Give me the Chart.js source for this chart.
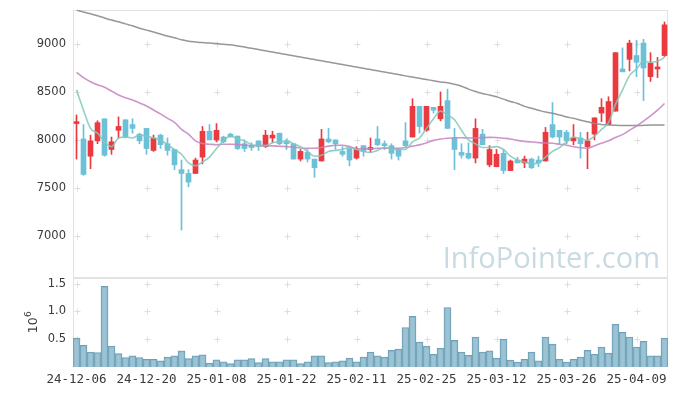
<!DOCTYPE html>
<html>
<head>
<meta charset="utf-8">
<script src="https://cdn.jsdelivr.net/npm/chart.js@4.4.1/dist/chart.umd.min.js"></script>
<style>
  html, body { margin: 0; padding: 0; background: #fff; }
  #wrap { position: relative; width: 677px; height: 396px; }
  #priceBox { position: absolute; left: 0; top: 0; width: 677px; height: 278px; }
  #volBox { position: absolute; left: 0; top: 277px; width: 677px; height: 119px; }
</style>
</head>
<body>
<div id="wrap">
  <div id="priceBox"><canvas id="price" width="677" height="278"></canvas></div>
  <div id="volBox"><canvas id="vol" width="677" height="119"></canvas></div>
</div>
<script>
// trading days shown
const dates = ["24-12-06","24-12-09","24-12-10","24-12-11","24-12-12","24-12-13","24-12-16","24-12-17","24-12-18","24-12-19",
  "24-12-20","24-12-23","24-12-24","24-12-26","24-12-27","24-12-30","25-01-02","25-01-03","25-01-06","25-01-07",
  "25-01-08","25-01-09","25-01-10","25-01-13","25-01-14","25-01-15","25-01-16","25-01-17","25-01-20","25-01-21",
  "25-01-22","25-01-23","25-01-24","25-01-31","25-02-03","25-02-04","25-02-05","25-02-06","25-02-07","25-02-10",
  "25-02-11","25-02-12","25-02-13","25-02-14","25-02-17","25-02-18","25-02-19","25-02-20","25-02-21","25-02-24",
  "25-02-25","25-02-26","25-02-27","25-02-28","25-03-04","25-03-05","25-03-06","25-03-07","25-03-10","25-03-11",
  "25-03-12","25-03-13","25-03-14","25-03-17","25-03-18","25-03-19","25-03-20","25-03-21","25-03-24","25-03-25",
  "25-03-26","25-03-27","25-03-28","25-03-31","25-04-01","25-04-02","25-04-03","25-04-04","25-04-07","25-04-08",
  "25-04-09","25-04-10","25-04-11","25-04-14","25-04-15"];

const opens = [8170,8010,7830,7990,8220,7900,8100,8210,8160,8060, 8120,7890,8050,7960,7900,7690,7650,7650,7820,8090,
  8000,8030,8060,8040,7960,7930,7990,7930,8020,8070, 7970,7960,7800,7870,7800,7780,8010,8000,7880,7910,
  7810,7940,7900,8010,7960,7940,7900,7990,8030,8350, 8100,8340,8220,8410,8020,7870,7860,7810,8060,7740,
  7720,7860,7680,7790,7760,7800,7790,7780,8160,8100, 8080,7990,8020,7930,8060,8280,8160,8300,8740,8840,
  8880,9010,8660,8740,8880];
const highs = [8260,8160,8050,8200,8220,8030,8240,8210,8220,8070, 8120,8050,8060,8020,7900,7790,7690,7810,8140,8160,
  8170,8040,8070,8040,8000,7970,7990,8100,8090,8070, 8010,7960,7900,7900,7800,8110,8120,8000,7930,7910,
  7930,7940,8020,8140,7990,7960,7910,8180,8430,8350, 8350,8340,8500,8530,8120,7960,7970,8220,8110,7940,
  7900,7900,7790,7820,7830,7810,7830,8130,8390,8100, 8100,8160,8080,8080,8230,8430,8450,8910,8960,9040,
  9040,9050,8910,8860,9230];
const lows = [7800,7630,7700,7960,7830,7850,8020,8020,8070,7960, 7850,7880,7910,7840,7690,7060,7510,7650,7750,8000,
  7980,7970,8030,7900,7880,7890,7890,7920,7970,7950, 7900,7800,7780,7770,7610,7780,7970,7900,7830,7730,
  7800,7830,7870,7940,7900,7800,7790,7930,8030,8070, 8090,8280,8200,8120,7690,7810,7800,7760,7950,7720,
  7720,7650,7680,7760,7710,7700,7720,7780,8020,7960, 7960,7950,7810,7700,8000,8190,8160,8300,8710,8720,
  8660,8410,8610,8650,8870];
const closes = [8190,7640,7990,8180,7840,7980,8140,8030,8120,7990, 7910,8020,7950,7890,7740,7650,7560,7790,8090,8000,
  8100,7980,8030,7910,7910,7920,7930,8050,8050,7960, 7960,7800,7880,7800,7710,8010,7980,7960,7850,7790,
  7900,7880,7920,7950,7940,7860,7830,7940,8350,8140, 8350,8310,8350,8120,7900,7840,7810,8120,7950,7900,
  7850,7680,7780,7760,7800,7710,7760,8080,8030,8030, 7990,8020,7960,7990,8230,8340,8400,8910,8710,9010,
  8810,8750,8800,8760,9200];

// moving averages
const ma5 = [8520,8310,8120,8070,7980,7930,8020,8030,8020,8050, 8040,8020,8000,7950,7900,7850,7760,7730,7770,7820,
  7910,7990,8040,8010,7990,7950,7940,7940,7970,7980, 7990,7960,7930,7880,7830,7840,7880,7890,7900,7920,
  7900,7880,7870,7890,7920,7910,7900,7900,7980,8020, 8120,8220,8300,8260,8210,8100,8000,7960,7920,7920,
  7930,7900,7830,7790,7770,7750,7760,7820,7880,7920, 7980,8030,8010,8000,8040,8110,8180,8370,8520,8670,
  8740,8820,8810,8820,8860];
const ma20 = [8705,8650,8607,8575,8549,8510,8469,8440,8417,8385, 8354,8312,8271,8225,8184,8110,8060,7990,7962,7955,
  7950,7955,7955,7952,7946,7941,7940,7940,7938,7934, 7930,7925,7915,7913,7913,7920,7935,7945,7945,7930,
  7910,7906,7908,7912,7913,7913,7913,7920,7935,7948, 7970,7995,8010,8018,8022,8022,8020,8020,8024,8026,
  8025,8018,8010,7995,7985,7978,7972,7968,7965,7955, 7945,7930,7918,7913,7940,7965,7990,8025,8055,8100,
  8145,8195,8250,8310,8380];
const ma60 = [9354,9335,9315,9295,9272,9250,9232,9210,9190,9165, 9145,9125,9105,9083,9065,9045,9030,9022,9015,9010,
  9005,8998,8992,8980,8968,8955,8942,8929,8916,8903, 8890,8877,8864,8851,8838,8825,8812,8799,8786,8773,
  8760,8747,8734,8721,8708,8695,8682,8668,8655,8642, 8630,8617,8605,8595,8580,8560,8530,8505,8485,8468,
  8450,8425,8400,8380,8350,8330,8310,8290,8278,8260, 8240,8225,8205,8190,8170,8160,8156,8152,8150,8150,
  8150,8152,8155,8156,8156];

// volume in millions of shares
const volumes = [0.52,0.39,0.27,0.26,1.45,0.375,0.24,0.17,0.20,0.17, 0.14,0.14,0.11,0.18,0.20,0.29,0.15,0.20,0.22,0.07,
  0.13,0.095,0.06,0.13,0.13,0.15,0.08,0.15,0.095,0.095, 0.13,0.13,0.06,0.095,0.20,0.20,0.08,0.095,0.11,0.16,
  0.095,0.18,0.27,0.20,0.18,0.30,0.32,0.71,0.91,0.45, 0.375,0.23,0.34,1.07,0.48,0.27,0.21,0.54,0.27,0.29,
  0.16,0.50,0.125,0.09,0.14,0.27,0.11,0.54,0.41,0.14, 0.09,0.14,0.18,0.30,0.23,0.36,0.25,0.77,0.625,0.54,
  0.36,0.46,0.20,0.20,0.52];

const priceTicks = [7000, 7500, 8000, 8500, 9000];
const volTicks = [0.5, 1.0, 1.5];
const labelEvery = 10;

const UP = "#ea3a40";
const DOWN = "#6cc1d9";
const Y_FONT = { family: "DejaVu Sans", size: 11.5 };
const X_FONT = { family: "DejaVu Sans Mono", size: 12.5 };
const TEXT = "#3a3a3a";
const candleColor = opens.map((o, i) => closes[i] >= o ? UP : DOWN);

// keep the plot box fixed: no extra room for overhanging tick labels
function fixBox(width) {
  return s => {
    if (width) s.width = width;
    s.paddingTop = 0; s.paddingBottom = 0;
    s.paddingLeft = 0; s.paddingRight = 0;
  };
}

// light frame + "+" marks at grid crossings
function frameAndCrosses(chart, yVals, sides) {
  const { ctx, chartArea: a, scales: { x, y } } = chart;
  ctx.save();
  ctx.strokeStyle = "#e2e2e2";
  ctx.lineWidth = 1;
  ctx.beginPath();
  if (sides.top) { ctx.moveTo(a.left, a.top + 0.5); ctx.lineTo(a.right, a.top + 0.5); }
  if (sides.bottom) { ctx.moveTo(a.left, a.bottom + 0.5); ctx.lineTo(a.right, a.bottom + 0.5); }
  ctx.moveTo(a.left + 0.5, a.top); ctx.lineTo(a.left + 0.5, a.bottom);
  ctx.moveTo(a.right - 0.5, a.top); ctx.lineTo(a.right - 0.5, a.bottom);
  ctx.stroke();

  ctx.strokeStyle = "#dedede";
  ctx.beginPath();
  for (let i = 0; i < dates.length; i += labelEvery) {
    const px = Math.round(x.getPixelForValue(i)) + 0.5;
    yVals.forEach(v => {
      const py = Math.round(y.getPixelForValue(v)) + 0.5;
      ctx.moveTo(px - 3, py); ctx.lineTo(px + 3, py);
      ctx.moveTo(px, py - 3); ctx.lineTo(px, py + 3);
    });
  }
  ctx.stroke();
  ctx.restore();
}

const priceDecor = {
  id: "priceDecor",
  beforeDatasetsDraw(chart) {
    frameAndCrosses(chart, priceTicks, { top: true, bottom: true });
    const { ctx, chartArea: a } = chart;
    ctx.save();
    ctx.fillStyle = "rgba(176,202,214,0.7)";
    ctx.font = "29px 'Open Sans'";
    ctx.textAlign = "right";
    ctx.textBaseline = "alphabetic";
    ctx.fillText("InfoPointer.com", a.right - 8, 268);
    ctx.restore();
  }
};

const volDecor = {
  id: "volDecor",
  beforeDatasetsDraw(chart) {
    frameAndCrosses(chart, volTicks, { top: true, bottom: false });
    // 10^6 unit label, rotated
    const { ctx, chartArea: a } = chart;
    ctx.save();
    ctx.translate(37, (a.top + a.bottom) / 2);
    ctx.rotate(-Math.PI / 2);
    ctx.fillStyle = TEXT;
    ctx.textBaseline = "alphabetic";
    ctx.textAlign = "left";
    ctx.font = "12.5px 'DejaVu Sans'";
    const w = ctx.measureText("10").width;
    ctx.font = "9px 'DejaVu Sans'";
    const w2 = ctx.measureText("6").width;
    const start = -(w + w2) / 2;
    ctx.font = "12.5px 'DejaVu Sans'";
    ctx.fillText("10", start, 0);
    ctx.font = "9px 'DejaVu Sans'";
    ctx.fillText("6", start + w + 0.5, -6);
    ctx.restore();
  }
};

new Chart(document.getElementById("price"), {
  type: "bar",
  data: {
    labels: dates,
    datasets: [
      { type: "line", label: "MA5", data: ma5, borderColor: "rgba(128,200,184,0.85)", borderWidth: 1.6,
        pointRadius: 0, cubicInterpolationMode: "monotone", order: 0 },
      { type: "line", label: "MA20", data: ma20, borderColor: "rgba(196,130,190,0.85)", borderWidth: 1.6,
        pointRadius: 0, cubicInterpolationMode: "monotone", order: 0 },
      { type: "line", label: "MA60", data: ma60, borderColor: "rgba(140,140,140,0.9)", borderWidth: 1.5,
        pointRadius: 0, cubicInterpolationMode: "monotone", order: 0 },
      { label: "body", data: opens.map((o, i) => [o, closes[i]]), backgroundColor: candleColor,
        barThickness: 5, minBarLength: 2, grouped: false, order: 1 },
      { label: "wick", data: lows.map((l, i) => [l, highs[i]]), backgroundColor: candleColor,
        barThickness: 1, grouped: false, order: 2 }
    ]
  },
  options: {
    responsive: false,
    animation: false,
    devicePixelRatio: 1,
    events: [],
    layout: { padding: { left: 5, right: 9, top: 10, bottom: 1 } },
    plugins: { legend: { display: false }, tooltip: { enabled: false } },
    scales: {
      x: { type: "category", offset: true, display: false },
      y: {
        min: 6570, max: 9355,
        afterFit: fixBox(68),
        afterBuildTicks: s => { s.ticks = priceTicks.map(v => ({ value: v })); },
        grid: { display: false, drawTicks: false },
        border: { display: false },
        ticks: { padding: 7, color: TEXT, font: Y_FONT, callback: v => String(v) }
      }
    }
  },
  plugins: [priceDecor]
});

new Chart(document.getElementById("vol"), {
  type: "bar",
  data: {
    labels: dates,
    datasets: [{
      label: "volume", data: volumes,
      backgroundColor: "rgba(138,184,204,0.85)", borderColor: "#6f9fb6", borderWidth: 1,
      barPercentage: 1, categoryPercentage: 1
    }]
  },
  options: {
    responsive: false,
    animation: false,
    devicePixelRatio: 1,
    events: [],
    layout: { padding: { left: 5, right: 9, top: 1, bottom: 0 } },
    plugins: { legend: { display: false }, tooltip: { enabled: false } },
    scales: {
      x: {
        offset: true,
        afterFit: s => { s.height = 29; fixBox(0)(s); },
        grid: { display: false, drawTicks: false },
        border: { display: false },
        ticks: { autoSkip: false, maxRotation: 0, padding: 5, color: TEXT, font: X_FONT,
          callback: (v, i) => i % labelEvery === 0 ? dates[i] : "" }
      },
      y: {
        min: 0, max: 1.6,
        afterFit: fixBox(68),
        afterBuildTicks: s => { s.ticks = volTicks.map(v => ({ value: v })); },
        grid: { display: false, drawTicks: false },
        border: { display: false },
        ticks: { padding: 7, color: TEXT, font: Y_FONT, callback: v => v.toFixed(1) }
      }
    }
  },
  plugins: [volDecor]
});
</script>
</body>
</html>
